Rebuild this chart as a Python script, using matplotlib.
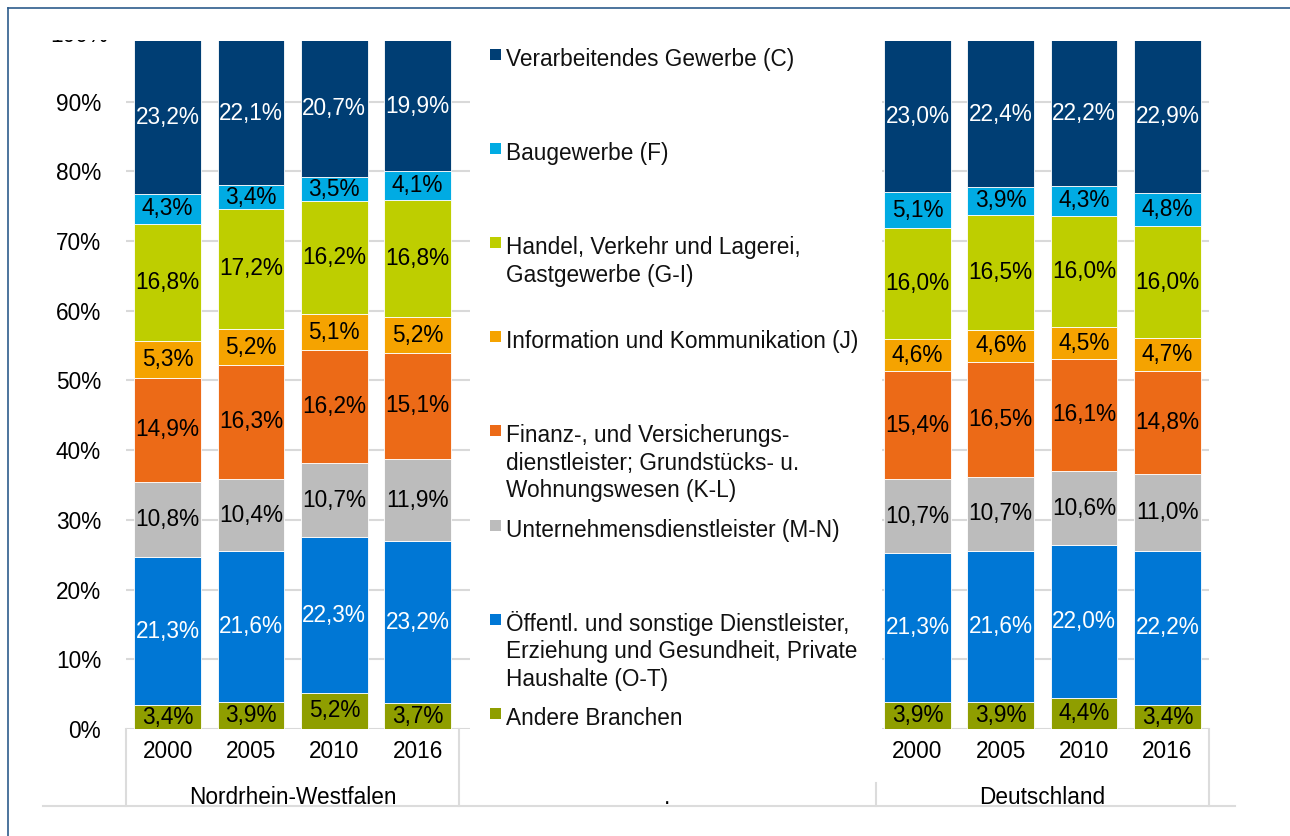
import matplotlib
matplotlib.use("Agg")
import matplotlib.pyplot as plt
from matplotlib.patches import Rectangle
from matplotlib.lines import Line2D
import numpy as np

plt.rcParams['font.family'] = ['Liberation Sans', 'DejaVu Sans']

# ---------------- data ----------------
years = ["2000", "2005", "2010", "2016"]
groups = ["Nordrhein-Westfalen", ".", "Deutschland"]

series_names = [
    "Andere Branchen",
    "Öffentl. und sonstige Dienstleister,\nErziehung und Gesundheit, Private\nHaushalte (O-T)",
    "Unternehmensdienstleister (M-N)",
    "Finanz-, und Versicherungs-\ndienstleister; Grundstücks- u.\nWohnungswesen (K-L)",
    "Information und Kommunikation (J)",
    "Handel, Verkehr und Lagerei,\nGastgewerbe (G-I)",
    "Baugewerbe (F)",
    "Verarbeitendes Gewerbe (C)",
]
series_colors = ["#8F9E00", "#0077D5", "#BCBCBC", "#EC6A17",
                 "#F5A300", "#BECE00", "#00ABE3", "#003E74"]
label_colors = ["black", "white", "black", "black",
                "black", "black", "black", "white"]

# values in %, per series (bottom to top), for NRW 2000..2016 then DE 2000..2016
andere        = [3.4, 3.9, 5.2, 3.7, 3.9, 3.9, 4.4, 3.4]
oeffentl      = [21.3, 21.6, 22.3, 23.2, 21.3, 21.6, 22.0, 22.2]
unternehmen   = [10.8, 10.4, 10.7, 11.9, 10.7, 10.7, 10.6, 11.0]
finanz        = [14.9, 16.3, 16.2, 15.1, 15.4, 16.5, 16.1, 14.8]
information   = [5.3, 5.2, 5.1, 5.2, 4.6, 4.6, 4.5, 4.7]
handel        = [16.8, 17.2, 16.2, 16.8, 16.0, 16.5, 16.0, 16.0]
bau           = [4.3, 3.4, 3.5, 4.1, 5.1, 3.9, 4.3, 4.8]
verarbeitend  = [23.2, 22.1, 20.7, 19.9, 23.0, 22.4, 22.2, 22.9]

series_values = [andere, oeffentl, unternehmen, finanz,
                 information, handel, bau, verarbeitend]

yticks = [0, 10, 20, 30, 40, 50, 60, 70, 80, 90]

# ---------------- layout ----------------
W, H = 1290, 836
fig = plt.figure(figsize=(W / 100, H / 100), dpi=100)

def fx(x):
    return x / W

def fy(y):
    return 1 - y / H

ax = fig.add_axes([fx(126), fy(729), (1209 - 126) / W, (729 - 41) / H])

# slots: NRW at 0..3, empty group at 4..8, DE at 9..12
x_pos = np.array([0, 1, 2, 3, 9, 10, 11, 12], dtype=float)

FS = 16.3
bottom = np.zeros(len(x_pos))
for vals, name, col, lcol in zip(series_values, series_names, series_colors, label_colors):
    v = np.array(vals) / 100.0
    bars = ax.bar(x_pos, v, width=0.8, bottom=bottom, color=col,
                  edgecolor="white", linewidth=0.6, zorder=2)
    labels = [f"{a:.1f}".replace(".", ",") + "%" for a in vals]
    ax.bar_label(bars, labels=labels, label_type="center", color=lcol,
                 fontsize=FS, zorder=3)
    bottom += v

ax.set_xlim(-0.5, 12.5)
ax.set_ylim(0, 0.987)
ax.set_yticks([t / 100 for t in yticks])
ax.set_yticklabels([f"{t}%" for t in yticks], fontsize=FS)
ax.tick_params(axis="y", length=0, pad=18)
ax.set_xticks([])
for s in ax.spines.values():
    s.set_visible(False)
ax.set_axisbelow(True)
ax.yaxis.grid(True, color="#D9D9D9", linewidth=1.5)

# clipped "100%" label at the very top (only its lower edge is visible)
t100 = fig.text(fx(108), fy(35), "100%", ha="right", va="center", fontsize=FS)
clip = Rectangle((0, 0), 1, fy(40), transform=fig.transFigure, facecolor="none")
t100.set_clip_path(clip)

# white area behind legend (covers gridlines)
ax.add_patch(Rectangle((3.63, -0.005), 4.94, 1.0, facecolor="white",
                       edgecolor="none", zorder=1))

# category axis (years + groups)
trans = ax.get_xaxis_transform()
yr_y = -(752 - 729) / 688
grp_y = -(797 - 729) / 688
line_y = -(806 - 729) / 688
mid_y = -(783 - 729) / 688
year_labels = years + years
for xp, lab in zip(x_pos, year_labels):
    ax.text(xp, yr_y, lab, transform=trans, ha="center", va="center",
            fontsize=FS, clip_on=False)
for gx, g in zip([1.5, 6.0, 10.5], groups):
    ax.text(gx, grp_y, g, transform=trans, ha="center", va="center",
            fontsize=FS, clip_on=False)
sep_col = "#DCDCDC"
for xs, y0 in [(-0.5, 0), (3.5, 0), (8.5, mid_y), (12.5, 0)]:
    ax.plot([xs, xs], [y0, line_y], transform=trans, color=sep_col,
            linewidth=1.5, clip_on=False)
fig.add_artist(Line2D([fx(43), fx(1235)], [fy(806), fy(806)],
                      color=sep_col, linewidth=1.5))

# legend (top-to-bottom order)
leg_x_sq, leg_x_txt = 490, 506
base0, step, line_step = 66, 94.1, 27.5
for i, k in enumerate(range(len(series_names) - 1, -1, -1)):
    base = base0 + i * step
    fig.add_artist(Rectangle((fx(leg_x_sq), fy(base - 6)), 11 / W, 11 / H,
                             transform=fig.transFigure,
                             facecolor=series_colors[k], edgecolor="none"))
    for j, line in enumerate(series_names[k].split("\n")):
        fig.text(fx(leg_x_txt), fy(base + j * line_step), line,
                 ha="left", va="baseline", fontsize=FS, color="#111111")

# outer frame lines
frame_col = "#2D5C8C"
fig.add_artist(Line2D([fx(8), 1.0], [fy(8), fy(8)], color=frame_col, linewidth=1.2))
fig.add_artist(Line2D([fx(8), fx(8)], [fy(8), 0.0], color=frame_col, linewidth=1.2))

fig.savefig("out.png", dpi=100, facecolor="white")
